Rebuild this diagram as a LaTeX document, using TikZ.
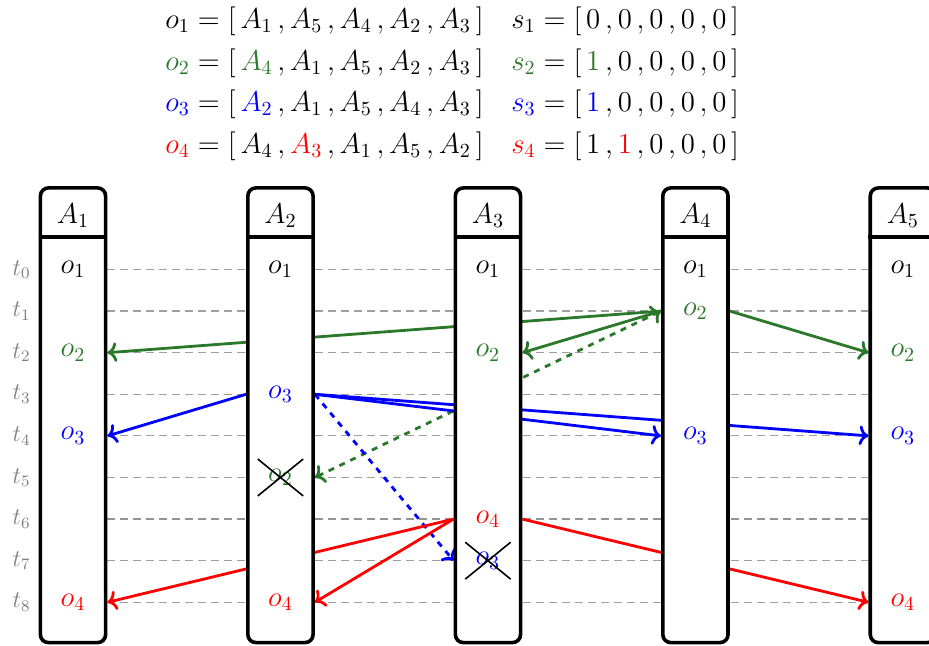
\documentclass[tikz,border=0pt]{standalone}
\usepackage{xcolor}
\definecolor{colTwo}{RGB}{42,120,42}
\colorlet{colThree}{blue}
\colorlet{colFour}{red}
\colorlet{colGrid}{gray!75}
\usepackage{amsmath, amssymb}
\usepackage{tikz}
\usetikzlibrary{arrows.meta, positioning, calc, shapes.misc}
\pgfdeclarelayer{bg}
\pgfsetlayers{bg,main}

\begin{document}
\begin{tikzpicture}[
		agent/.style={draw, line width=1.8pt, rounded corners=4pt, fill=white, minimum width=1.146cm, minimum height=7.99cm, inner sep=0pt},
		entry/.style={font=\Large, inner sep=1pt},
		gone/.style={cross out, draw=black, thick, minimum width=0.77cm, minimum height=0.62cm},
		tlabel/.style={font=\large, text=gray},
		grid/.style={colGrid, semithick, dash pattern=on 4pt off 2.5pt},
		msg/.style={line width=1.4pt, ->},
		eq/.style={font=\Large, anchor=base west, inner sep=0pt}]
	\useasboundingbox (0,0) rectangle (16.326,-11.352);
	% vectors
	\node[eq] (eqo1) at (2.90,-0.50) {$o_1 = [\,A_1\,, A_5\,, A_4\,, A_2\,, A_3\,]$};
	\node[eq] (eqs1) at (8.98,-0.50) {$s_1 = [\,0\,, 0\,, 0\,, 0\,, 0\,]$};
	\node[eq] (eqo2) at (2.90,-1.231) {$\textcolor{colTwo}{o_2} = [\,\textcolor{colTwo}{A_4}\,, A_1\,, A_5\,, A_2\,, A_3\,]$};
	\node[eq] (eqs2) at (8.98,-1.231) {$\textcolor{colTwo}{s_2} = [\,\textcolor{colTwo}{1}\,, 0\,, 0\,, 0\,, 0\,]$};
	\node[eq] (eqo3) at (2.90,-1.962) {$\textcolor{colThree}{o_3} = [\,\textcolor{colThree}{A_2}\,, A_1\,, A_5\,, A_4\,, A_3\,]$};
	\node[eq] (eqs3) at (8.98,-1.962) {$\textcolor{colThree}{s_3} = [\,\textcolor{colThree}{1}\,, 0\,, 0\,, 0\,, 0\,]$};
	\node[eq] (eqo4) at (2.90,-2.693) {$\textcolor{colFour}{o_4} = [\,A_4\,, \textcolor{colFour}{A_3}\,, A_1\,, A_5\,, A_2\,]$};
	\node[eq] (eqs4) at (8.98,-2.693) {$\textcolor{colFour}{s_4} = [\,1\,, \textcolor{colFour}{1}\,, 0\,, 0\,, 0\,]$};
	% time rows
	\foreach \j in {0,...,8} {
		\coordinate (r\j) at (0,{-4.736-0.731*\j});
		\node[tlabel] (t\j) at (0.38,{-4.736-0.731*\j}) {$t_{\j}$};
	}
	\coordinate (hd) at (0,-4.16);
	% agents
	\foreach \i in {1,...,5} {
		\node[agent] (ag\i) at ({1.283+3.646*(\i-1)},-7.2975) {};
		\draw[line width=1.8pt] (ag\i.west |- hd) -- (ag\i.east |- hd);
		\node[font=\Large] (name\i) at (ag\i |- 0,-3.79) {$A_{\i}$};
		\node[entry] (o1a\i) at (ag\i |- r0) {$o_1$};
	}
	\node[entry, colTwo] (o2a1) at (ag1 |- r2) {$o_2$};
	\node[entry, colThree] (o3a1) at (ag1 |- r4) {$o_3$};
	\node[entry, colFour] (o4a1) at (ag1 |- r8) {$o_4$};
	\node[entry, colThree] (o3a2) at (ag2 |- r3) {$o_3$};
	\node[entry, colTwo, gone] (o2a2) at (ag2 |- r5) {$o_2$};
	\node[entry, colFour] (o4a2) at (ag2 |- r8) {$o_4$};
	\node[entry, colTwo] (o2a3) at (ag3 |- r2) {$o_2$};
	\node[entry, colFour] (o4a3) at (ag3 |- r6) {$o_4$};
	\node[entry, colThree, gone] (o3a3) at (ag3 |- r7) {$o_3$};
	\node[entry, colTwo] (o2a4) at (ag4 |- r1) {$o_2$};
	\node[entry, colThree] (o3a4) at (ag4 |- r4) {$o_3$};
	\node[entry, colTwo] (o2a5) at (ag5 |- r2) {$o_2$};
	\node[entry, colThree] (o3a5) at (ag5 |- r4) {$o_3$};
	\node[entry, colFour] (o4a5) at (ag5 |- r8) {$o_4$};
	% messages behind the agents
	\begin{pgfonlayer}{bg}
		\foreach \j in {0,...,8}
			\draw[grid] (ag1.east |- r\j) -- (ag5.west |- r\j);
		\draw[grid, gray!85] (ag1.east |- r6) -- (ag5.west |- r6);
		% o2
		\draw[msg, colTwo] (ag4.west |- r1) -- (ag1.east |- r2);
		\draw[msg, colTwo] (ag4.west |- r1) -- (ag3.east |- r2);
		\draw[msg, colTwo] (ag4.east |- r1) -- (ag5.west |- r2);
		\draw[msg, colTwo, dashed, <->] (ag4.west |- r1) -- (ag2.east |- r5);
		% o3
		\draw[msg, colThree] (ag2.west |- r3) -- (ag1.east |- r4);
		\draw[msg, colThree] (ag2.east |- r3) -- (ag4.west |- r4);
		\draw[msg, colThree] (ag2.east |- r3) -- (ag5.west |- r4);
		\draw[msg, colThree, dashed] (ag2.east |- r3) -- (ag3.west |- r7);
		% o4
		\draw[msg, colFour] (ag3.west |- r6) -- (ag1.east |- r8);
		\draw[msg, colFour] (ag3.west |- r6) -- (ag2.east |- r8);
		\draw[msg, colFour] (ag3.east |- r6) -- (ag5.west |- r8);
	\end{pgfonlayer}
\end{tikzpicture}
\end{document}
